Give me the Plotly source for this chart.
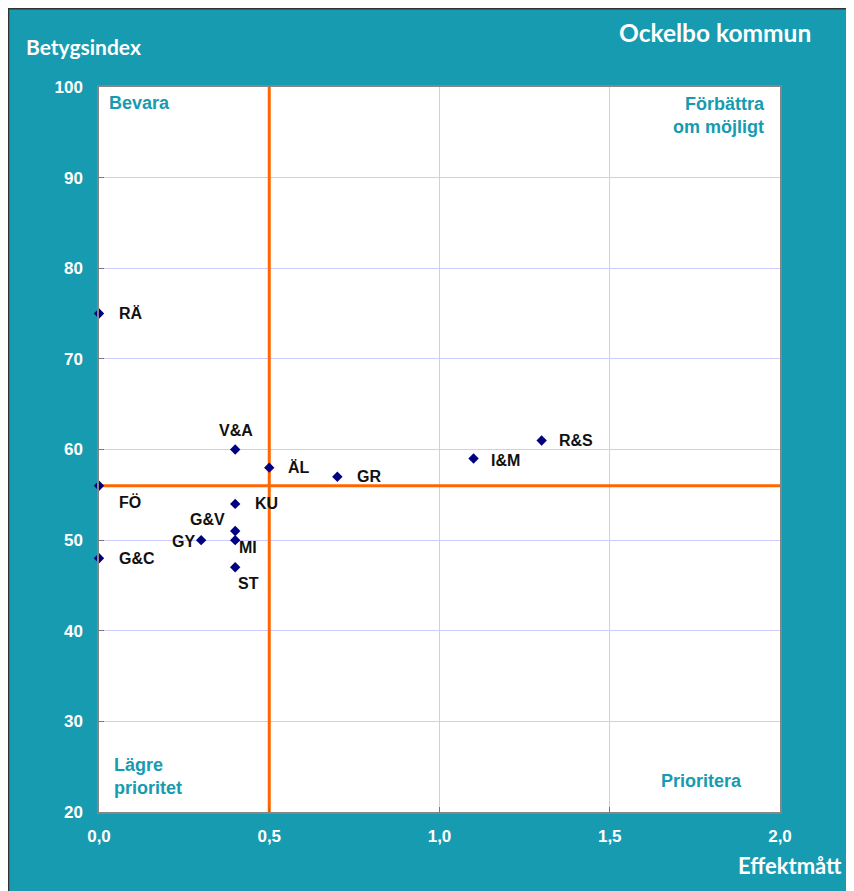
import plotly.graph_objects as go

# ---- data ----
labels = ["RÄ", "FÖ", "G&C", "V&A", "ÄL", "GR", "I&M", "R&S", "KU", "G&V", "GY", "MI", "ST"]
effekt = [0.0, 0.0, 0.0, 0.4, 0.5, 0.7, 1.1, 1.3, 0.4, 0.4, 0.3, 0.4, 0.4]
betyg = [75, 56, 48, 60, 58, 57, 59, 61, 54, 51, 50, 50, 47]
x_ticks = [0.0, 0.5, 1.0, 1.5, 2.0]
y_ticks = [20, 30, 40, 50, 60, 70, 80, 90, 100]
x_range = [0, 2]
y_range = [20, 100]
x_split = 0.5
y_split = 56

# label placement (style): anchor, xshift, yshift
label_style = {
    "RÄ": ("left", 18, 0), "FÖ": ("left", 18, -16), "G&C": ("left", 18, 0),
    "V&A": ("center", 1, 19), "ÄL": ("left", 17, 0), "GR": ("left", 18, 0),
    "I&M": ("left", 15, -2), "R&S": ("left", 15, 0), "KU": ("left", 18, 0),
    "G&V": ("right", -8, 12), "GY": ("right", -4, -1), "MI": ("left", 2, -7),
    "ST": ("left", 1, -16),
}

OFF = 8  # page body margin
W, H = 854 - OFF, 891 - OFF
# plot area in window pixels: x 99..780, y 87..812
ML, MT = 99 - OFF, 87 - OFF
MR, MB = W - (780 - OFF), H - (812 - OFF)
PW, PH = W - ML - MR, H - MT - MB
TEAL = "#169BB0"
ORANGE = "#FF6600"
FONT = "Liberation Sans, Arial, sans-serif"
TFONT = "Lato, Liberation Sans, Arial, sans-serif"

def px(x):  # window px -> paper
    return (x - OFF - ML) / PW

def py(y):
    return (H - MB - (y - OFF)) / PH

fig = go.Figure()
# quadrant divider lines (drawn as traces so markers sit on top)
fig.add_trace(go.Scatter(x=[x_split, x_split], y=y_range, mode="lines",
                         line=dict(color=ORANGE, width=3), hoverinfo="skip",
                         showlegend=False))
fig.add_trace(go.Scatter(x=x_range, y=[y_split, y_split], mode="lines",
                         line=dict(color=ORANGE, width=3), hoverinfo="skip",
                         showlegend=False))
fig.add_trace(go.Scatter(
    x=effekt, y=betyg, mode="markers", cliponaxis=False,
    marker=dict(symbol="diamond", size=8, color="#000080"),
    hoverinfo="text", text=labels, showlegend=False,
))

ann = []
for lab, xv, yv in zip(labels, effekt, betyg):
    anc, xs, ys = label_style[lab]
    ann.append(dict(x=xv, y=yv, xref="x", yref="y", text=lab, showarrow=False,
                    xanchor=anc, yanchor="middle", xshift=xs, yshift=ys,
                    font=dict(family=FONT, size=16, color="#111111", weight="bold")))

def txt(text, x, y, xanchor, color, size, family=FONT, align="left"):
    ann.append(dict(x=px(x), y=py(y), xref="paper", yref="paper", text=text,
                    showarrow=False, xanchor=xanchor, yanchor="middle", align=align,
                    font=dict(family=family, size=size, color=color, weight="bold")))

txt("Betygsindex", 24, 47, "left", "white", 21, TFONT)
txt("Ockelbo kommun", 813, 32, "right", "white", 24.5, TFONT)
txt("Effektmått", 844, 866, "right", "white", 22, TFONT)
txt("Bevara", 107, 103, "left", TEAL, 18)
txt("Förbättra<br>om möjligt", 767, 115, "right", TEAL, 18, align="right")
txt("Lägre<br>prioritet", 112, 776, "left", TEAL, 18)
txt("Prioritera", 744, 781, "right", TEAL, 18)

shapes = [
    # dark frame line at page edges
    dict(type="line", xref="paper", yref="paper", x0=px(OFF + 0.5), x1=px(OFF + 0.5),
         y0=py(H + OFF + 2), y1=py(OFF), line=dict(color="#333333", width=1.5)),
    dict(type="line", xref="paper", yref="paper", x0=px(OFF), x1=px(W + OFF + 2),
         y0=py(OFF + 0.7), y1=py(OFF + 0.7), line=dict(color="#333333", width=1.5)),
]

axis_common = dict(showgrid=True, gridcolor="#CCCCFF", gridwidth=1, zeroline=False,
                   showline=True, linecolor="#868686", linewidth=1.5, mirror=True,
                   ticks="inside", ticklen=5, tickcolor="#777777",
                   tickfont=dict(family=FONT, size=17, color="white", weight="bold"))

fig.update_layout(
    width=W, height=H, margin=dict(l=ML, r=MR, t=MT, b=MB, pad=0),
    paper_bgcolor=TEAL, plot_bgcolor="white",
    separators=", ",
    annotations=ann, shapes=shapes,
    xaxis=dict(range=x_range, tickvals=x_ticks, tickformat=".1f",
               ticklabelstandoff=8, **axis_common),
    yaxis=dict(range=y_range, tickvals=y_ticks, ticklabelstandoff=11, **axis_common),
    font=dict(family=FONT),
)

fig.write_html("out.html")
